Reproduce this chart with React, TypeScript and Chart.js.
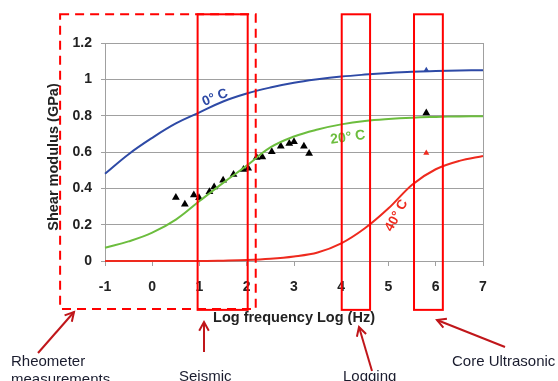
import React, { useEffect, useRef } from "react";
import { Chart, registerables } from "chart.js";

Chart.register(...registerables);

// Curves (log frequency vs shear modulus)
const curveX = [-1, -0.5, 0, 0.5, 1, 1.5, 2, 2.5, 3, 3.5, 4, 4.5, 5, 5.5, 6, 6.5, 7];
const blue0C = [0.48, 0.588, 0.678, 0.757, 0.818, 0.878, 0.922, 0.955, 0.981, 1.0, 1.015, 1.026, 1.035, 1.042, 1.046, 1.049, 1.05];
const green20C = [0.073, 0.108, 0.156, 0.228, 0.33, 0.43, 0.525, 0.625, 0.685, 0.724, 0.752, 0.771, 0.782, 0.789, 0.793, 0.796, 0.797];
const red40C = [0, 0, 0, 0, 0, 0.002, 0.005, 0.012, 0.025, 0.047, 0.097, 0.18, 0.29, 0.42, 0.505, 0.551, 0.578];

// Measured points (black triangles)
const measX = [0.5, 0.69, 0.88, 0.99, 1.21, 1.31, 1.5, 1.72, 1.93, 2.03, 2.21, 2.33, 2.53, 2.72, 2.9, 3.0, 3.21, 3.32];
const measY = [0.35, 0.313, 0.363, 0.348, 0.381, 0.408, 0.445, 0.476, 0.504, 0.51, 0.57, 0.573, 0.601, 0.632, 0.647, 0.656, 0.632, 0.592];

// Ultrasonic points
const ultraX = [5.8, 5.8, 5.8];
const ultraY = [1.05, 0.815, 0.595];

const xTicks = [-1, 0, 1, 2, 3, 4, 5, 6, 7];
const yTicks = [0, 0.2, 0.4, 0.6, 0.8, 1, 1.2];

const BLUE = "#2e4aa6";
const GREEN = "#6cbd3e";
const RED = "#ee2a1e";
const FONT = "'Liberation Sans', Arial, sans-serif";

// Frequency band boxes [xFrom, xTo]
const seismicBand = [0.96, 2.02];
const loggingBand = [4.01, 4.61];
const coreBand = [5.54, 6.15];
const rheoBand = [-1.95, 2.19];

const overlay = {
  id: "overlay",
  beforeDatasetsDraw(chart: any) {
    const { ctx, chartArea: ca } = chart;
    ctx.save();
    ctx.strokeStyle = "#a0a0a0";
    ctx.lineWidth = 1;
    ctx.beginPath();
    ctx.moveTo(ca.right + 0.5, ca.top);
    ctx.lineTo(ca.right + 0.5, ca.bottom);
    ctx.stroke();
    ctx.restore();
  },
  afterDraw(chart: any) {
    const { ctx, chartArea: ca } = chart;
    const xs = chart.scales.x;
    const ys = chart.scales.y;
    const px = (v: number) => xs.getPixelForValue(v);
    const py = (v: number) => ys.getPixelForValue(v);
    ctx.save();

    // axis titles
    ctx.fillStyle = "#222";
    ctx.font = `bold 14.5px ${FONT}`;
    ctx.textAlign = "center";
    ctx.textBaseline = "middle";
    ctx.fillText("Log frequency Log (Hz)", (ca.left + ca.right) / 2, 318);
    ctx.save();
    ctx.translate(54, 157);
    ctx.rotate(-Math.PI / 2);
    ctx.fillText("Shear modulus (GPa)", 0, 0);
    ctx.restore();

    // curve labels
    const lbl = (t: string, x: number, y: number, rot: number, c: string, size: number) => {
      ctx.save();
      ctx.translate(px(x), py(y));
      ctx.rotate((rot * Math.PI) / 180);
      ctx.fillStyle = c;
      ctx.font = `bold ${size}px ${FONT}`;
      ctx.textAlign = "center";
      ctx.textBaseline = "middle";
      ctx.fillText(t, 0, 0);
      ctx.restore();
    };
    lbl("0° C", 1.33, 0.9, -22, BLUE, 13.5);
    lbl("20° C", 4.14, 0.68, -8, GREEN, 14);
    lbl("40° C", 5.17, 0.25, -62, RED, 13.5);

    // red boxes
    const top = py(1.358);
    const bottom = py(-0.269);
    ctx.strokeStyle = "#ff0000";
    ctx.lineWidth = 2;
    for (const b of [seismicBand, loggingBand, coreBand]) {
      ctx.strokeRect(px(b[0]), top, px(b[1]) - px(b[0]), bottom - top);
    }
    ctx.setLineDash([9, 6]);
    ctx.strokeRect(px(rheoBand[0]), top, px(rheoBand[1]) - px(rheoBand[0]), py(-0.264) - top);
    ctx.setLineDash([]);

    // arrows
    const arrow = (x1: number, y1: number, x2: number, y2: number) => {
      ctx.strokeStyle = "#c0161a";
      ctx.lineWidth = 2;
      ctx.beginPath();
      ctx.moveTo(x1, y1);
      ctx.lineTo(x2, y2);
      ctx.stroke();
      const a = Math.atan2(y2 - y1, x2 - x1);
      const L = 10;
      ctx.beginPath();
      ctx.moveTo(x2 - L * Math.cos(a - 0.5), y2 - L * Math.sin(a - 0.5));
      ctx.lineTo(x2, y2);
      ctx.lineTo(x2 - L * Math.cos(a + 0.5), y2 - L * Math.sin(a + 0.5));
      ctx.stroke();
    };
    arrow(38, 353, 74, 312);
    arrow(204, 352, 204, 322);
    arrow(372, 371, 359, 327);
    arrow(505, 347, 437, 320);

    // band labels
    ctx.fillStyle = "#1a1c2e";
    ctx.font = `15px ${FONT}`;
    ctx.textAlign = "left";
    ctx.textBaseline = "alphabetic";
    ctx.fillText("Rheometer", 11, 366);
    ctx.fillText("measurements", 11, 384);
    ctx.fillText("Seismic", 179, 381);
    ctx.fillText("Logging", 343, 381);
    ctx.fillText("Core Ultrasonic", 452, 366);
    ctx.restore();
  },
};

export default function App() {
  const ref = useRef<HTMLCanvasElement>(null);
  useEffect(() => {
    const line = (data: number[], color: string, label: string, mono: boolean) => ({
      type: "line" as const,
      label,
      data: curveX.map((x, i) => ({ x, y: data[i] })),
      borderColor: color,
      borderWidth: 2,
      pointRadius: 0,
      tension: 0.4,
      cubicInterpolationMode: mono ? ("monotone" as const) : ("default" as const),
      fill: false,
      clip: false as any,
    });
    const chart = new Chart(ref.current!, {
      type: "scatter",
      data: {
        datasets: [
          line(blue0C, BLUE, "0° C", false),
          line(green20C, GREEN, "20° C", false),
          line(red40C, RED, "40° C", true),
          {
            type: "scatter",
            label: "Measured",
            data: measX.map((x, i) => ({ x, y: measY[i] })),
            pointStyle: "triangle",
            radius: 4.5,
            backgroundColor: "#000",
            borderColor: "#000",
            borderWidth: 0,
          },
          {
            type: "scatter",
            label: "Ultrasonic",
            data: ultraX.map((x, i) => ({ x, y: ultraY[i] })),
            pointStyle: "triangle",
            radius: [3.5, 4.5, 3.5],
            backgroundColor: [BLUE, "#000", RED],
            borderWidth: 0,
          },
        ] as any,
      },
      options: {
        animation: false,
        responsive: false,
        devicePixelRatio: 1,
        layout: { padding: { left: 0, right: 75, top: 43, bottom: 80 } },
        plugins: { legend: { display: false }, tooltip: { enabled: false } },
        scales: {
          x: {
            type: "linear",
            min: -1,
            max: 7,
            afterBuildTicks: (s: any) => {
              s.ticks = xTicks.map((v) => ({ value: v }));
            },
            afterFit: (s: any) => {
              s.height = 40;
            },
            grid: { drawOnChartArea: false, drawTicks: true, tickLength: 5, color: "#a0a0a0" },
            border: { color: "#a0a0a0" },
            ticks: {
              padding: 13,
              color: "#222",
              font: { family: FONT, size: 14, weight: "bold" },
              callback: (v: any) => String(v),
            },
          },
          y: {
            type: "linear",
            min: 0,
            max: 1.2,
            afterBuildTicks: (s: any) => {
              s.ticks = yTicks.map((v) => ({ value: v }));
            },
            afterFit: (s: any) => {
              s.width = 105;
            },
            grid: { drawTicks: true, tickLength: 4, color: "#a0a0a0" },
            border: { color: "#a0a0a0" },
            ticks: {
              padding: 9,
              color: "#222",
              font: { family: FONT, size: 14, weight: "bold" },
              callback: (v: any) => String(Number(Number(v).toFixed(1))),
            },
          },
        },
      } as any,
      plugins: [overlay],
    });
    return () => chart.destroy();
  }, []);
  return (
    <div style={{ position: "absolute", left: 0, top: 0, width: 558, height: 381, background: "#fff" }}>
      <canvas ref={ref} width={558} height={381} style={{ display: "block" }} />
    </div>
  );
}
